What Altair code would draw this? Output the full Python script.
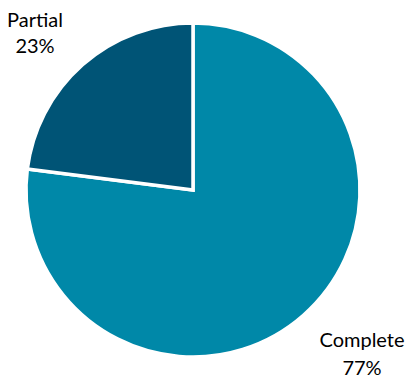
import altair as alt
import pandas as pd

categories = ["Complete", "Partial"]
values = [77, 23]
colors = ["#0088A8", "#005476"]

df = pd.DataFrame({"category": categories, "value": values, "order": [0, 1]})

base = alt.Chart(df)

pie = base.mark_arc(radius=167, stroke="white", strokeWidth=3.5).encode(
    theta=alt.Theta("value:Q", stack=True),
    order=alt.Order("order:Q"),
    color=alt.Color("category:N", scale=alt.Scale(domain=categories, range=colors), legend=None),
    x=alt.value(185),
    y=alt.value(182),
)

def label(cat, x, y, lh):
    return base.transform_filter(alt.datum.category == cat).transform_calculate(
        lab=alt.datum.category + "\n" + alt.datum.value + "%"
    ).mark_text(
        font="Lato", fontSize=20, color="black", align="center", baseline="alphabetic",
        lineBreak="\n", lineHeight=lh,
    ).encode(text="lab:N", x=alt.value(x), y=alt.value(y))

chart = alt.layer(
    pie,
    label("Partial", 27, 19, 26),
    label("Complete", 354, 339, 28),
).properties(
    width=400, height=372, autosize=alt.AutoSizeParams(type="none"), padding=0
).configure_view(stroke=None)

chart.save("out.html", embed_options={"renderer": "svg", "actions": False})
